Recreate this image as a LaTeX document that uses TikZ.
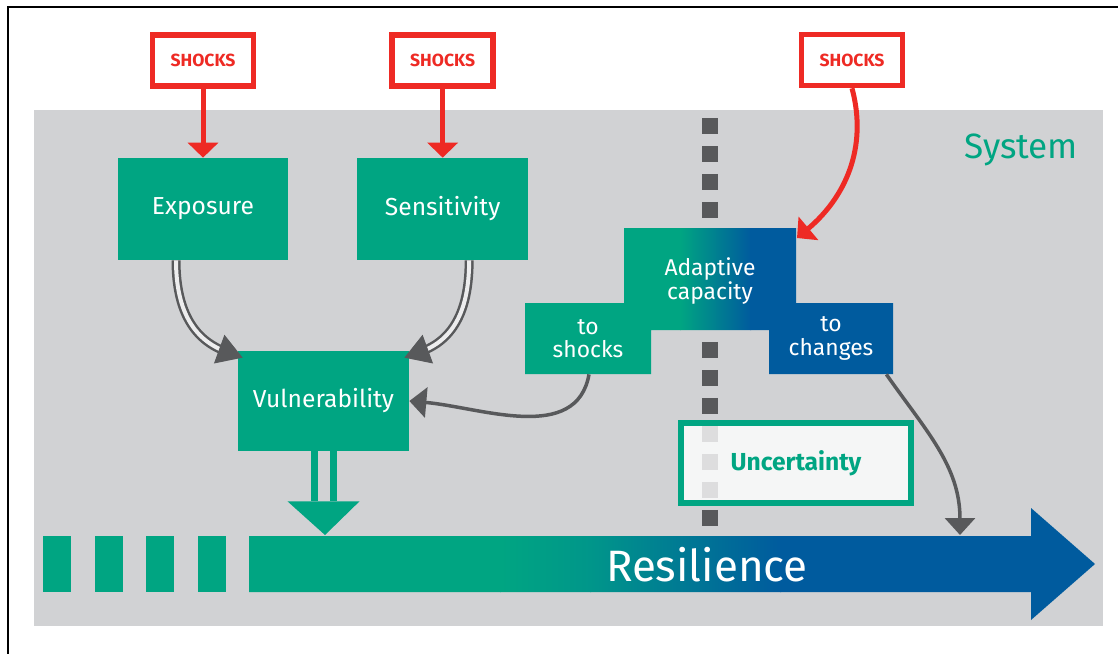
\documentclass[tikz,border=0pt]{standalone}
\usepackage{fontspec}
\setmainfont{Fira Sans}
\usetikzlibrary{arrows.meta, calc, positioning}

\definecolor{sysgreen}{HTML}{00A582}
\definecolor{sysblue}{HTML}{005B9E}
\definecolor{systeal}{HTML}{00968A}
\definecolor{sysgray}{HTML}{D1D2D4}
\definecolor{arrowgray}{HTML}{58595B}
\definecolor{shockred}{HTML}{EE2A24}

\begin{document}
\begin{tikzpicture}[x=0.02cm, y=0.02cm,
    box/.style={fill=sysgreen, text=white, minimum width=3.42cm, minimum height=2.04cm, font=\fontsize{14}{15}\selectfont},
    shock/.style={draw=shockred, line width=0.11cm, fill=white, text=shockred, minimum width=2.02cm, minimum height=1.02cm, font=\bfseries\fontsize{10}{12}\selectfont},
    wing/.style={text=white, align=center, font=\fontsize{13}{13.5}\selectfont},
    redarrow/.style={color=shockred, line width=0.1cm, -{Triangle[width=0.6cm, length=0.3cm]}},
    grayarrow/.style={color=arrowgray, line width=0.07cm, -{Triangle[width=0.6cm, length=0.34cm]}},
    dblline/.style={draw=arrowgray, line width=0.05cm, double=white!60!sysgray, double distance=0.08cm},
    dbltip/.style={color=arrowgray, line width=0.05cm, -{Triangle[width=0.6cm, length=0.5cm]}}]

    \useasboundingbox (0,0) rectangle (1118,-653);
    \draw[line width=0.05cm] (8,-665) -- (8,-7) -- (1130,-7); % outer frame

    % Define the system area
    \fill[sysgray] (34,-110) rectangle (1103,-626);
    \node[anchor=base, text=sysgreen, font=\fontsize{20}{24}\selectfont] (system) at (1021,-158) {System};
    \draw[arrowgray, line width=0.32cm, dash pattern=on 0.32cm off 0.24cm] (710,-118) -- (710,-526);

    % Adaptive capacity block, green to blue
    \begin{scope}
        \clip (624,-228) -- (796,-228) -- (796,-303) -- (893,-303) -- (893,-374) -- (769,-374) -- (769,-330)
              -- (651,-330) -- (651,-374) -- (525,-374) -- (525,-303) -- (624,-303) -- cycle;
        \fill[sysgreen] (520,-220) rectangle (681,-380);
        \shade[left color=sysgreen, right color=sysblue] (680,-220) rectangle (751,-380);
        \fill[sysblue] (750,-220) rectangle (900,-380);
    \end{scope}
    \node[wing, minimum width=3.44cm, minimum height=2.04cm] (adapt) at (710,-281) {Adaptive\\capacity};
    \node[wing, minimum width=2.52cm, minimum height=1.42cm] (tosh) at (588,-338.5) {to\\shocks};
    \node[wing, minimum width=2.48cm, minimum height=1.42cm] (tochg) at (831,-338.5) {to\\changes};

    \node[draw=sysgreen, line width=0.12cm, fill=white, fill opacity=0.8, text opacity=1, text=sysgreen,
          minimum width=4.6cm, minimum height=1.6cm, font=\bfseries\fontsize{14}{16}\selectfont] (unc) at (796,-463) {Uncertainty};

    % Resilience bar
    \foreach \x in {43,95,146,198}
        \fill[sysgreen] (\x,-536) rectangle ++(28,-56);
    \begin{scope}
        \clip (249,-536) -- (1031,-536) -- (1031,-508) -- (1095,-564) -- (1031,-620) -- (1031,-592) -- (249,-592) -- cycle;
        \fill[sysgreen] (245,-500) rectangle (501,-630);
        \shade[left color=sysgreen, right color=systeal] (500,-500) rectangle (591,-630);
        \shade[left color=systeal, right color=sysblue] (590,-500) rectangle (781,-630);
        \fill[sysblue] (780,-500) rectangle (1100,-630);
    \end{scope}
    \node[text=white, font=\fontsize{25}{30}\selectfont] (resil) at (707,-565) {Resilience};

    % Define the boxes (nodes)
    \node[box] (expo) at (203,-209) {Exposure};
    \node[box, right=1.36cm of expo] (sens) {Sensitivity};
    \node[box, minimum height=2cm] (vul) at (323.5,-401) {Vulnerability};
    \node[shock, above=1.38cm of expo] (shock1) {SHOCKS};
    \node[shock, above=1.38cm of sens] (shock2) {SHOCKS};
    \node[shock] (shock3) at (852,-60) {SHOCKS};

    \coordinate (adtip) at (797,-238);
    \coordinate (expo-end) at ($(vul.north west)+(5,-7)$);
    \coordinate (sens-end) at ($(vul.north east)+(-5,-7)$);
    \coordinate (expo-mid) at ($(expo-end)+(160:18)$);
    \coordinate (sens-mid) at ($(sens-end)+(20:18)$);
    \coordinate (chg-end) at (960,-535);
    \coordinate (vul-end) at (325,-535);

    % Define the transitions
    \draw[redarrow] (shock1) -- (expo);
    \draw[redarrow] (shock2) -- (sens);
    \draw[redarrow] (shock3.south) to[out=-75, in=40] (adtip);
    \draw[dblline] ([xshift=-0.54cm]expo.south) to[out=-90, in=160] (expo-mid);
    \draw[dbltip] (expo-mid) -- (expo-end);
    \draw[dblline] ([xshift=0.53cm]sens.south) to[out=-90, in=20] (sens-mid);
    \draw[dbltip] (sens-mid) -- (sens-end);
    \draw[grayarrow] ([xshift=0.02cm]tosh.south) to[out=-100, in=-5] (vul.east);
    \draw[grayarrow] ([xshift=-0.14cm]tochg.south east) to[out=-55, in=90] (chg-end);
    \draw[sysgreen, line width=0.14cm, double=sysgray, double distance=0.24cm] (vul.south) -- ++(0,-50) coordinate (vul-head);
    \fill[sysgreen] ($(vul-head)+(-36,0)$) -- ($(vul-head)+(36,0)$) -- (vul-end) -- cycle; % hollow arrow head
\end{tikzpicture}
\end{document}
